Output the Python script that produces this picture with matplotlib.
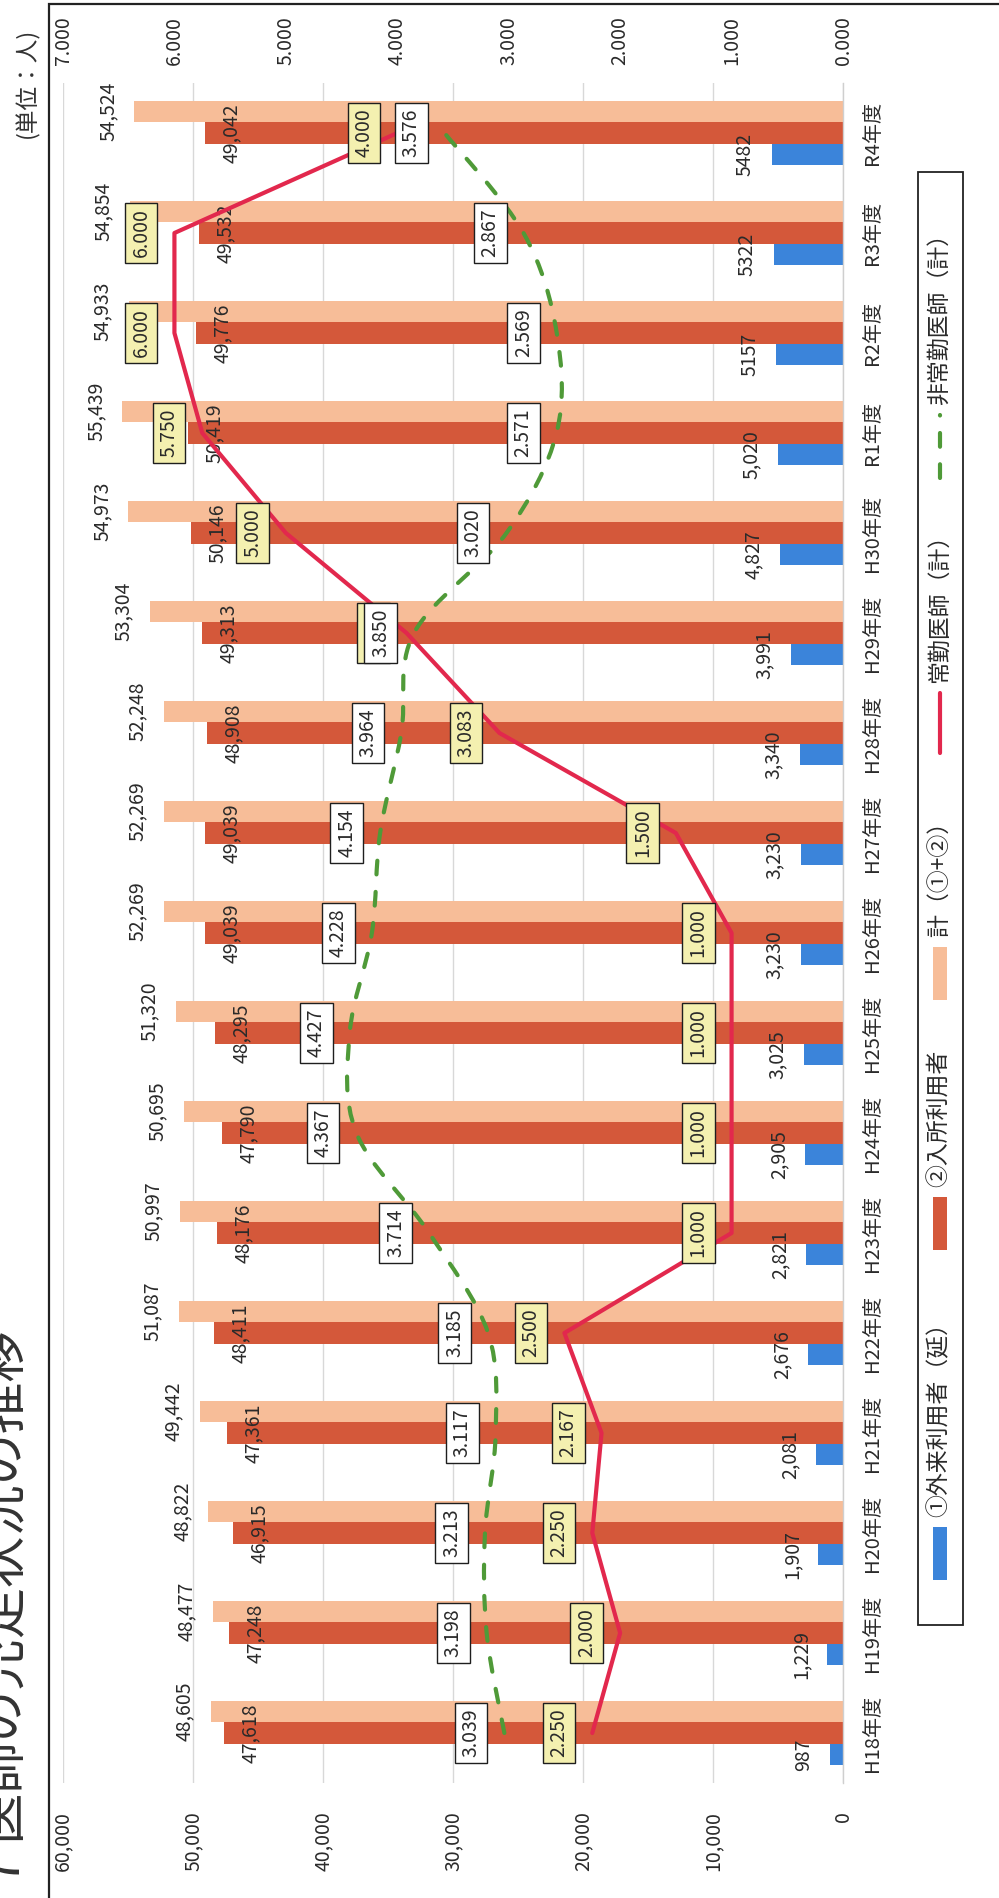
import numpy as np
import matplotlib
matplotlib.use("Agg")
import matplotlib.pyplot as plt
from matplotlib.path import Path
from matplotlib.patches import PathPatch, Rectangle
from matplotlib.lines import Line2D

plt.rcParams['font.family'] = ['Noto Sans CJK JP', 'DejaVu Sans']

# ---- data -------------------------------------------------------------
years = ["H18年度", "H19年度", "H20年度", "H21年度", "H22年度", "H23年度",
         "H24年度", "H25年度", "H26年度", "H27年度", "H28年度", "H29年度",
         "H30年度", "R1年度", "R2年度", "R3年度", "R4年度"]
outpatients = [987, 1229, 1907, 2081, 2676, 2821, 2905, 3025, 3230, 3230,
               3340, 3991, 4827, 5020, 5157, 5322, 5482]
outpatient_comma = [True] * 14 + [False] * 3
inpatients = [47618, 47248, 46915, 47361, 48411, 48176, 47790, 48295, 49039,
              49039, 48908, 49313, 50146, 50419, 49776, 49532, 49042]
totals = [48605, 48477, 48822, 49442, 51087, 50997, 50695, 51320, 52269,
          52269, 52248, 53304, 54973, 55439, 54933, 54854, 54524]
fulltime_doctors = [2.250, 2.000, 2.250, 2.167, 2.500, 1.000, 1.000, 1.000,
                    1.000, 1.500, 3.083, 3.917, 5.000, 5.750, 6.000, 6.000, 4.000]
parttime_doctors = [3.039, 3.198, 3.213, 3.117, 3.185, 3.714, 4.367, 4.427,
                    4.228, 4.154, 3.964, 3.850, 3.020, 2.571, 2.569, 2.867, 3.576]
people_ticks = [0, 10000, 20000, 30000, 40000, 50000, 60000]
doctor_ticks = [0, 1, 2, 3, 4, 5, 6, 7]

legend_labels = ["①外来利用者（延）", "②入所利用者", "計（①+②）",
                 "常勤医師（計）", "非常勤医師（計）"]

# ---- styling ----------------------------------------------------------
C_OUT = '#3b84da'
C_IN = '#d4583a'
C_TOT = '#f7bd98'
C_FULL = '#e2284d'
C_PART = '#4f9a38'
C_YELLOW = '#f4f0b0'
C_TEXT = '#2a2a2a'

W, H = 999, 1898
fig = plt.figure(figsize=(W / 100, H / 100), dpi=100)


def fx(px):
    return px / W


def fy(py):
    return 1 - py / H


# chart is laid out sideways: categories run bottom -> top, values right -> left
ax = fig.add_axes([fx(63), fy(1783), fx(843) - fx(63), fy(83) - fy(1783)])
idx = np.arange(len(years))
h = 0.215

ax.barh(idx - h, outpatients, height=h, color=C_OUT, zorder=2)
ax.barh(idx, inpatients, height=h, color=C_IN, zorder=2)
ax.barh(idx + h, totals, height=h, color=C_TOT, zorder=2)

ax.set_xlim(60000, 0)
ax.set_ylim(-0.5, len(years) - 0.5)
ax.set_xticks(people_ticks)
ax.set_xticklabels([f"{v:,}" for v in people_ticks], rotation=90)
ax.grid(axis='x', color='#d8d8d8', lw=1.0)
ax.set_axisbelow(True)
ax.set_yticks(idx)
ax.set_yticklabels(years, rotation=90, va='center')
ax.yaxis.tick_right()
ax.tick_params(axis='x', length=0, pad=20, labelsize=14, labelcolor=C_TEXT)
ax.tick_params(axis='y', length=0, pad=14, labelsize=14.5, labelcolor=C_TEXT)
for side in ['top', 'bottom', 'left']:
    ax.spines[side].set_visible(False)
ax.spines['right'].set_color('#cfcfcf')
ax.spines['right'].set_linewidth(1.0)

# bar value labels
lab_kw = dict(textcoords='offset points', rotation=90, ha='center', va='center',
              fontsize=14, color=C_TEXT, zorder=4)
for i in idx:
    ax.annotate(f"{totals[i]:,}", xy=(totals[i], i + h), xytext=(-19, 0), **lab_kw)
    ax.annotate(f"{inpatients[i]:,}", xy=(inpatients[i], i), xytext=(19, 0), **lab_kw)
    txt = f"{outpatients[i]:,}" if outpatient_comma[i] else f"{outpatients[i]}"
    ax.annotate(txt, xy=(outpatients[i], i - h), xytext=(-19, 0), **lab_kw)

# secondary scale for doctor counts
ax2 = ax.twiny()
for s in ax2.spines.values():
    s.set_visible(False)

ax2.plot(fulltime_doctors, idx, color=C_FULL, lw=3.0, zorder=3,
         solid_capstyle='round', solid_joinstyle='round')

# smoothed dashed curve for part-time doctors
pts = np.column_stack([parttime_doctors, idx]).astype(float)
ext = np.vstack([pts[0], pts, pts[-1]])
verts = [pts[0]]
codes = [Path.MOVETO]
for k in range(len(pts) - 1):
    p0, p1, p2, p3 = ext[k], ext[k + 1], ext[k + 2], ext[k + 3]
    verts += [p1 + (p2 - p0) / 6, p2 - (p3 - p1) / 6, p2]
    codes += [Path.CURVE4] * 3
curve = PathPatch(Path(np.array(verts), codes), fill=False, ec=C_PART, lw=3.0,
                  ls=(0, (3.3, 4.2)), capstyle='round', zorder=3,
                  transform=ax2.transData)
ax2.add_patch(curve)

ax2.set_xlim(7, 0)
ax2.set_ylim(-0.5, len(years) - 0.5)
ax2.set_xticks(doctor_ticks)
ax2.set_xticklabels([f"{v:.3f}" for v in doctor_ticks], rotation=90)
ax2.tick_params(axis='x', length=0, pad=13, labelsize=14, labelcolor=C_TEXT)

box_kw = dict(textcoords='offset points', rotation=90, ha='center', va='center',
              fontsize=14, color=C_TEXT)
for i in idx:
    ax2.annotate(f"{fulltime_doctors[i]:.3f}", xy=(fulltime_doctors[i], i),
                 xytext=(-24, 0), zorder=5,
                 bbox=dict(boxstyle='square,pad=0.3', fc=C_YELLOW, ec='#1e1e1e', lw=1.0),
                 **box_kw)
for i in idx:
    ax2.annotate(f"{parttime_doctors[i]:.3f}", xy=(parttime_doctors[i], i),
                 xytext=(-24, 0), zorder=6,
                 bbox=dict(boxstyle='square,pad=0.3', fc='white', ec='#1e1e1e', lw=1.0),
                 **box_kw)

# ---- legend (drawn sideways) -------------------------------------------
fig.add_artist(Rectangle((fx(918), fy(1625)), fx(963) - fx(918), fy(172) - fy(1625),
                         transform=fig.transFigure, fill=False, ec='#222', lw=1.3))
leg_x = 940
swatches = [(1527, 1580, 'bar', C_OUT), (1197, 1250, 'bar', C_IN),
            (947, 1000, 'bar', C_TOT), (693, 753, 'line', C_FULL),
            (415, 478, 'dash', C_PART)]
for (y0, y1, kind, col), label in zip(swatches, legend_labels):
    if kind == 'bar':
        fig.add_artist(Rectangle((fx(leg_x - 7), fy(y1)), fx(14), fy(y0) - fy(y1),
                                 transform=fig.transFigure, fc=col, ec='none'))
    elif kind == 'line':
        fig.add_artist(Line2D([fx(leg_x), fx(leg_x)], [fy(y1), fy(y0)],
                              transform=fig.transFigure, color=col, lw=3.0,
                              solid_capstyle='round'))
    else:
        fig.add_artist(Line2D([fx(leg_x), fx(leg_x)], [fy(y1), fy(y0)],
                              transform=fig.transFigure, color=col, lw=3.0,
                              ls=(0, (3.3, 4.2)), dash_capstyle='round'))
    fig.text(fx(leg_x - 1), fy(y0 - 10), label, rotation=90, rotation_mode='anchor',
             ha='left', va='center', fontsize=16.5, color=C_TEXT)

# ---- frame, title, unit -------------------------------------------------
fig.add_artist(Rectangle((fx(49), -0.05), 1.2, fy(4) + 0.05,
                         transform=fig.transFigure, fill=False, ec='#222', lw=1.6))
fig.text(fx(6), fy(1884), "7 医師の充足状況の推移", rotation=90,
         rotation_mode='anchor', ha='left', va='center', fontsize=37, color='#333')
fig.text(fx(27), fy(83), "(単位：人)", rotation=90, ha='center', va='center',
         fontsize=17, color='#333')

fig.savefig("out.png", dpi=100)
